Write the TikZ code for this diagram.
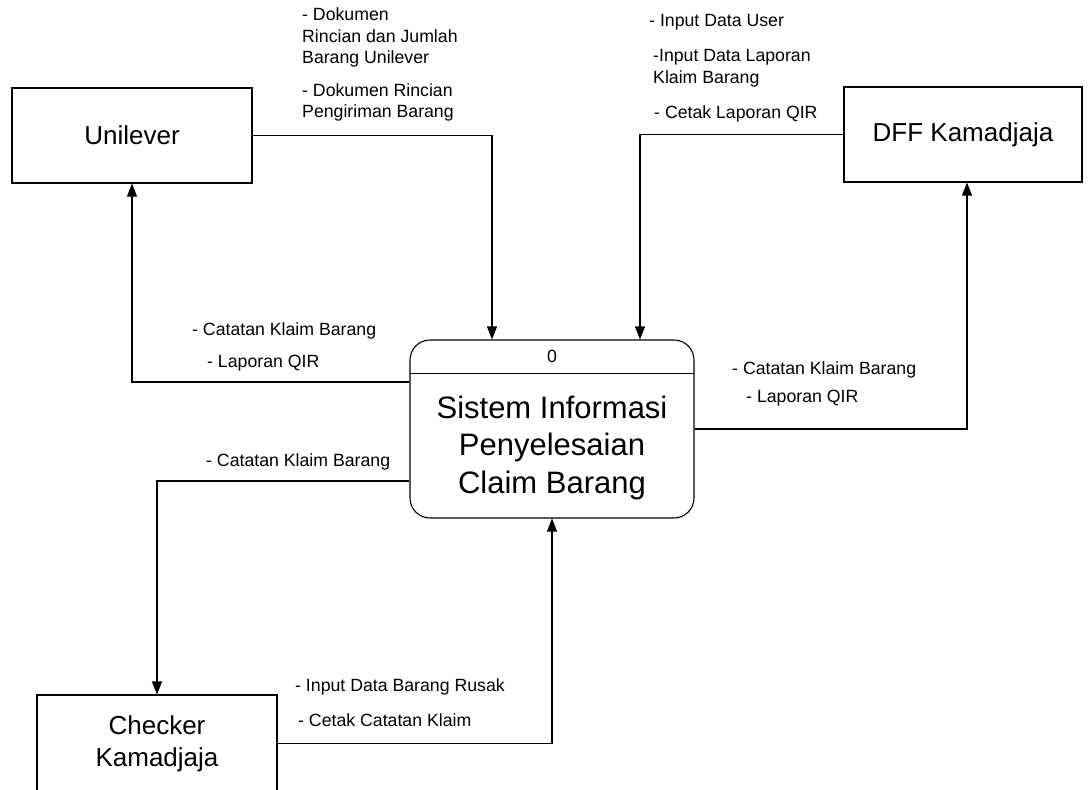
\documentclass[tikz,border=0pt]{standalone}
\usepackage{fontspec}
\setmainfont{Liberation Sans}
\usetikzlibrary{arrows.meta,calc}
\tikzset{
  entity/.style={
    draw=black,
    line width=1.1pt,
    minimum width=240pt,
    minimum height=95pt,
    inner sep=0pt,
    align=center,
    font=\fontsize{26}{32}\selectfont
  },
  process/.style={
    draw=black,
    line width=1.1pt,
    rounded corners=20pt,
    minimum width=284pt,
    minimum height=178pt,
    inner sep=0pt
  },
  flow/.style={line width=1.1pt,-{Triangle[length=13pt,width=10pt]}},
  flow label/.style={anchor=west,inner sep=0pt,align=left,font=\fontsize{17.7}{21.5}\selectfont}
}

\begin{document}
\begin{tikzpicture}[x=1pt,y=-1pt]
  \useasboundingbox (0,0) rectangle (1088,790);

  % external entities
  \node[entity] (uni) at (132,135.5) {Unilever};
  \node[entity,minimum width=238pt] (dff) at (963,134.5) {DFF Kamadjaja};
  \node[entity,minimum height=97pt] (chk) at (157,743.5) {Checker\\Kamadjaja};

  % process 0
  \node[process] (proc) at (552,429) {};
  \draw[line width=1.1pt]
    ([yshift=-34pt]proc.north west) -- ([yshift=-34pt]proc.north east);
  \node[font=\fontsize{17.7}{21.5}\selectfont,inner sep=0pt] (pnum)
    at ([yshift=-17pt]proc.north) {0};
  \node[align=center,inner sep=0pt,font=\fontsize{31}{37.5}\selectfont] (pname)
    at (552,447.5) {Sistem Informasi\\Penyelesaian\\Claim Barang};

  % data flows
  \draw[flow] (uni.east) -| ([xshift=-60pt]proc.north);
  \draw[flow] (dff.west) -| ([xshift=88pt]proc.north);
  \draw[flow] ([yshift=47pt]proc.west) -| (uni.south);
  \draw[flow] (proc.east) -| ([xshift=4pt]dff.south);
  \draw[flow] ([yshift=-52pt]proc.west) -| (chk.north);
  \draw[flow] (chk.east) -| (proc.south);

  % flow labels
  \node[flow label] (l1) at (302,37.5) {- Dokumen\\Rincian dan Jumlah\\Barang Unilever};
  \node[flow label] (l2) at (302,102.5) {- Dokumen Rincian\\Pengiriman Barang};
  \node[flow label] (l3) at (649,22) {- Input Data User};
  \node[flow label] (l4) at (653,68) {-Input Data Laporan\\Klaim Barang};
  \node[flow label] (l5) at (654,114) {- Cetak Laporan QIR};
  \node[flow label] (l6) at (192,331) {- Catatan Klaim Barang};
  \node[flow label] (l7) at (207,363) {- Laporan QIR};
  \node[flow label] (l8) at (732,370) {- Catatan Klaim Barang};
  \node[flow label] (l9) at (746,398) {- Laporan QIR};
  \node[flow label] (l10) at (206,462) {- Catatan Klaim Barang};
  \node[flow label] (l11) at (295,687) {- Input Data Barang Rusak};
  \node[flow label] (l12) at (298,720) {- Cetak Catatan Klaim};
\end{tikzpicture}
\end{document}
